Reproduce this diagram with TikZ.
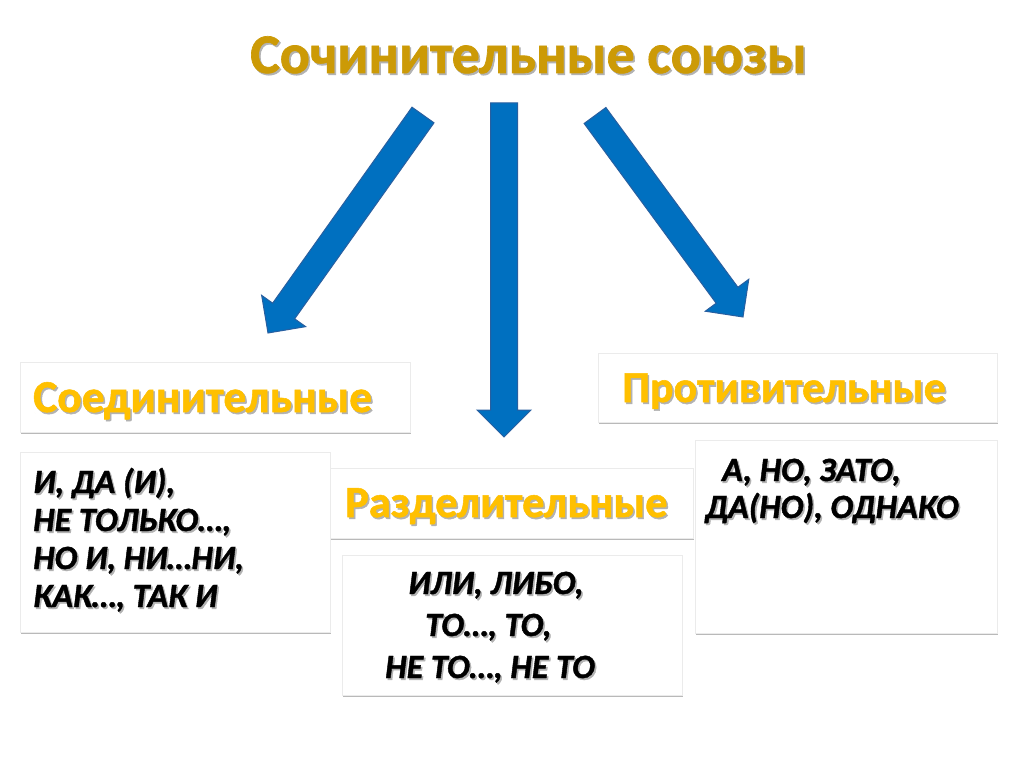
\documentclass[tikz,border=0pt]{standalone}
\usepackage{fontspec}
\setmainfont{Carlito}[BoldFont={Carlito Bold}, ItalicFont={Carlito Italic}, BoldItalicFont={Carlito Bold Italic},
  BoldFeatures={FakeBold=1.2}, BoldItalicFeatures={FakeBold=1.2}]
\usetikzlibrary{calc,shadows}
\definecolor{arrowblue}{RGB}{0,112,192}
\definecolor{arrowedge}{RGB}{40,95,160}
\definecolor{titlegold}{RGB}{204,154,6}
\definecolor{labelgold}{RGB}{255,192,0}
\newcommand\shadowed[2]{\makebox[0pt][l]{\hspace{1.6pt}\raisebox{-1.8pt}{\color{black!30}#2}}{\color{#1}#2}}
\newcommand\blockarrow[2]{%
  \coordinate (#1h) at ($(#2)!27pt!(#1)$);
  \draw[blockarr] ($(#1)!13.5pt!90:(#2)$) -- ($(#1h)!13.5pt!90:(#2)$) -- ($(#1h)!27pt!90:(#2)$) -- (#2)
    -- ($(#1h)!27pt!-90:(#2)$) -- ($(#1h)!13.5pt!-90:(#2)$) -- ($(#1)!13.5pt!-90:(#2)$) -- cycle;}
\begin{document}
\begin{tikzpicture}[x=1pt,y=-1pt,
  card/.style={fill=white, draw=black!8, line width=0.6pt, inner sep=0pt, anchor=north west,
    drop shadow={shadow xshift=1pt, shadow yshift=-2pt, fill=black!50, opacity=0.55}},
  blockarr/.style={fill=arrowblue, draw=arrowedge, line width=1pt, line join=miter},
  titletext/.style={inner sep=0pt, anchor=base west, font=\fontsize{56}{60}\selectfont\bfseries},
  labeltext/.style={inner sep=0pt, anchor=base west, font=\fontsize{44.5}{50}\selectfont\bfseries},
  itemtext/.style={inner sep=0pt, anchor=base west, font=\fontsize{34}{36}\selectfont\bfseries\itshape}]
\path[use as bounding box, fill=white] (0,0) rectangle (1024,767);

% title
\node[titletext] (title) at (250,73) {\shadowed{titlegold}{Сочинительные союзы}};

% arrows
\coordinate (s1) at (423,115); \coordinate (e1) at (268,333);
\coordinate (s2) at (504,103); \coordinate (e2) at (504,437);
\coordinate (s3) at (595,115.5); \coordinate (e3) at (743,317);
\blockarrow{s1}{e1}
\blockarrow{s2}{e2}
\blockarrow{s3}{e3}

% label boxes
\node[card, minimum width=363, minimum height=70] (razbox) at (330,468) {};
\node[card, minimum width=390, minimum height=70] (soebox) at (20,362) {};
\node[card, minimum width=399, minimum height=69] (probox) at (598,353) {};

% content boxes
\node[card, minimum width=310, minimum height=180] (soelist) at (20,452) {};
\node[card, minimum width=340, minimum height=140] (razlist) at (342,555) {};
\node[card, minimum width=302, minimum height=193] (prolist) at (695,440) {};

% labels
\node[labeltext, font=\fontsize{45.5}{50}\selectfont\bfseries] (soe) at (33,412) {\shadowed{labelgold}{Соединительные}};
\node[labeltext] (raz) at (345,517) {\shadowed{labelgold}{Разделительные}};
\node[labeltext, font=\fontsize{44}{50}\selectfont\bfseries] (pro) at (622,402) {\shadowed{labelgold}{Противительные}};

% items
\node[itemtext] (l1) at (33,493) {\shadowed{black}{И, ДА (И),}};
\node[itemtext] (l2) at (33,531) {\shadowed{black}{НЕ ТОЛЬКО…,}};
\node[itemtext] (l3) at (33,569) {\shadowed{black}{НО И, НИ…НИ,}};
\node[itemtext] (l4) at (33,607) {\shadowed{black}{КАК…, ТАК И}};

\node[itemtext] (m1) at (408,594) {\shadowed{black}{ИЛИ, ЛИБО,}};
\node[itemtext] (m2) at (425,636) {\shadowed{black}{ТО…, ТО,}};
\node[itemtext] (m3) at (385,678) {\shadowed{black}{НЕ ТО…, НЕ ТО}};

\node[itemtext] (r1) at (722,481) {\shadowed{black}{А, НО, ЗАТО,}};
\node[itemtext] (r2) at (705,518) {\shadowed{black}{ДА(НО), ОДНАКО}};
\end{tikzpicture}
\end{document}
